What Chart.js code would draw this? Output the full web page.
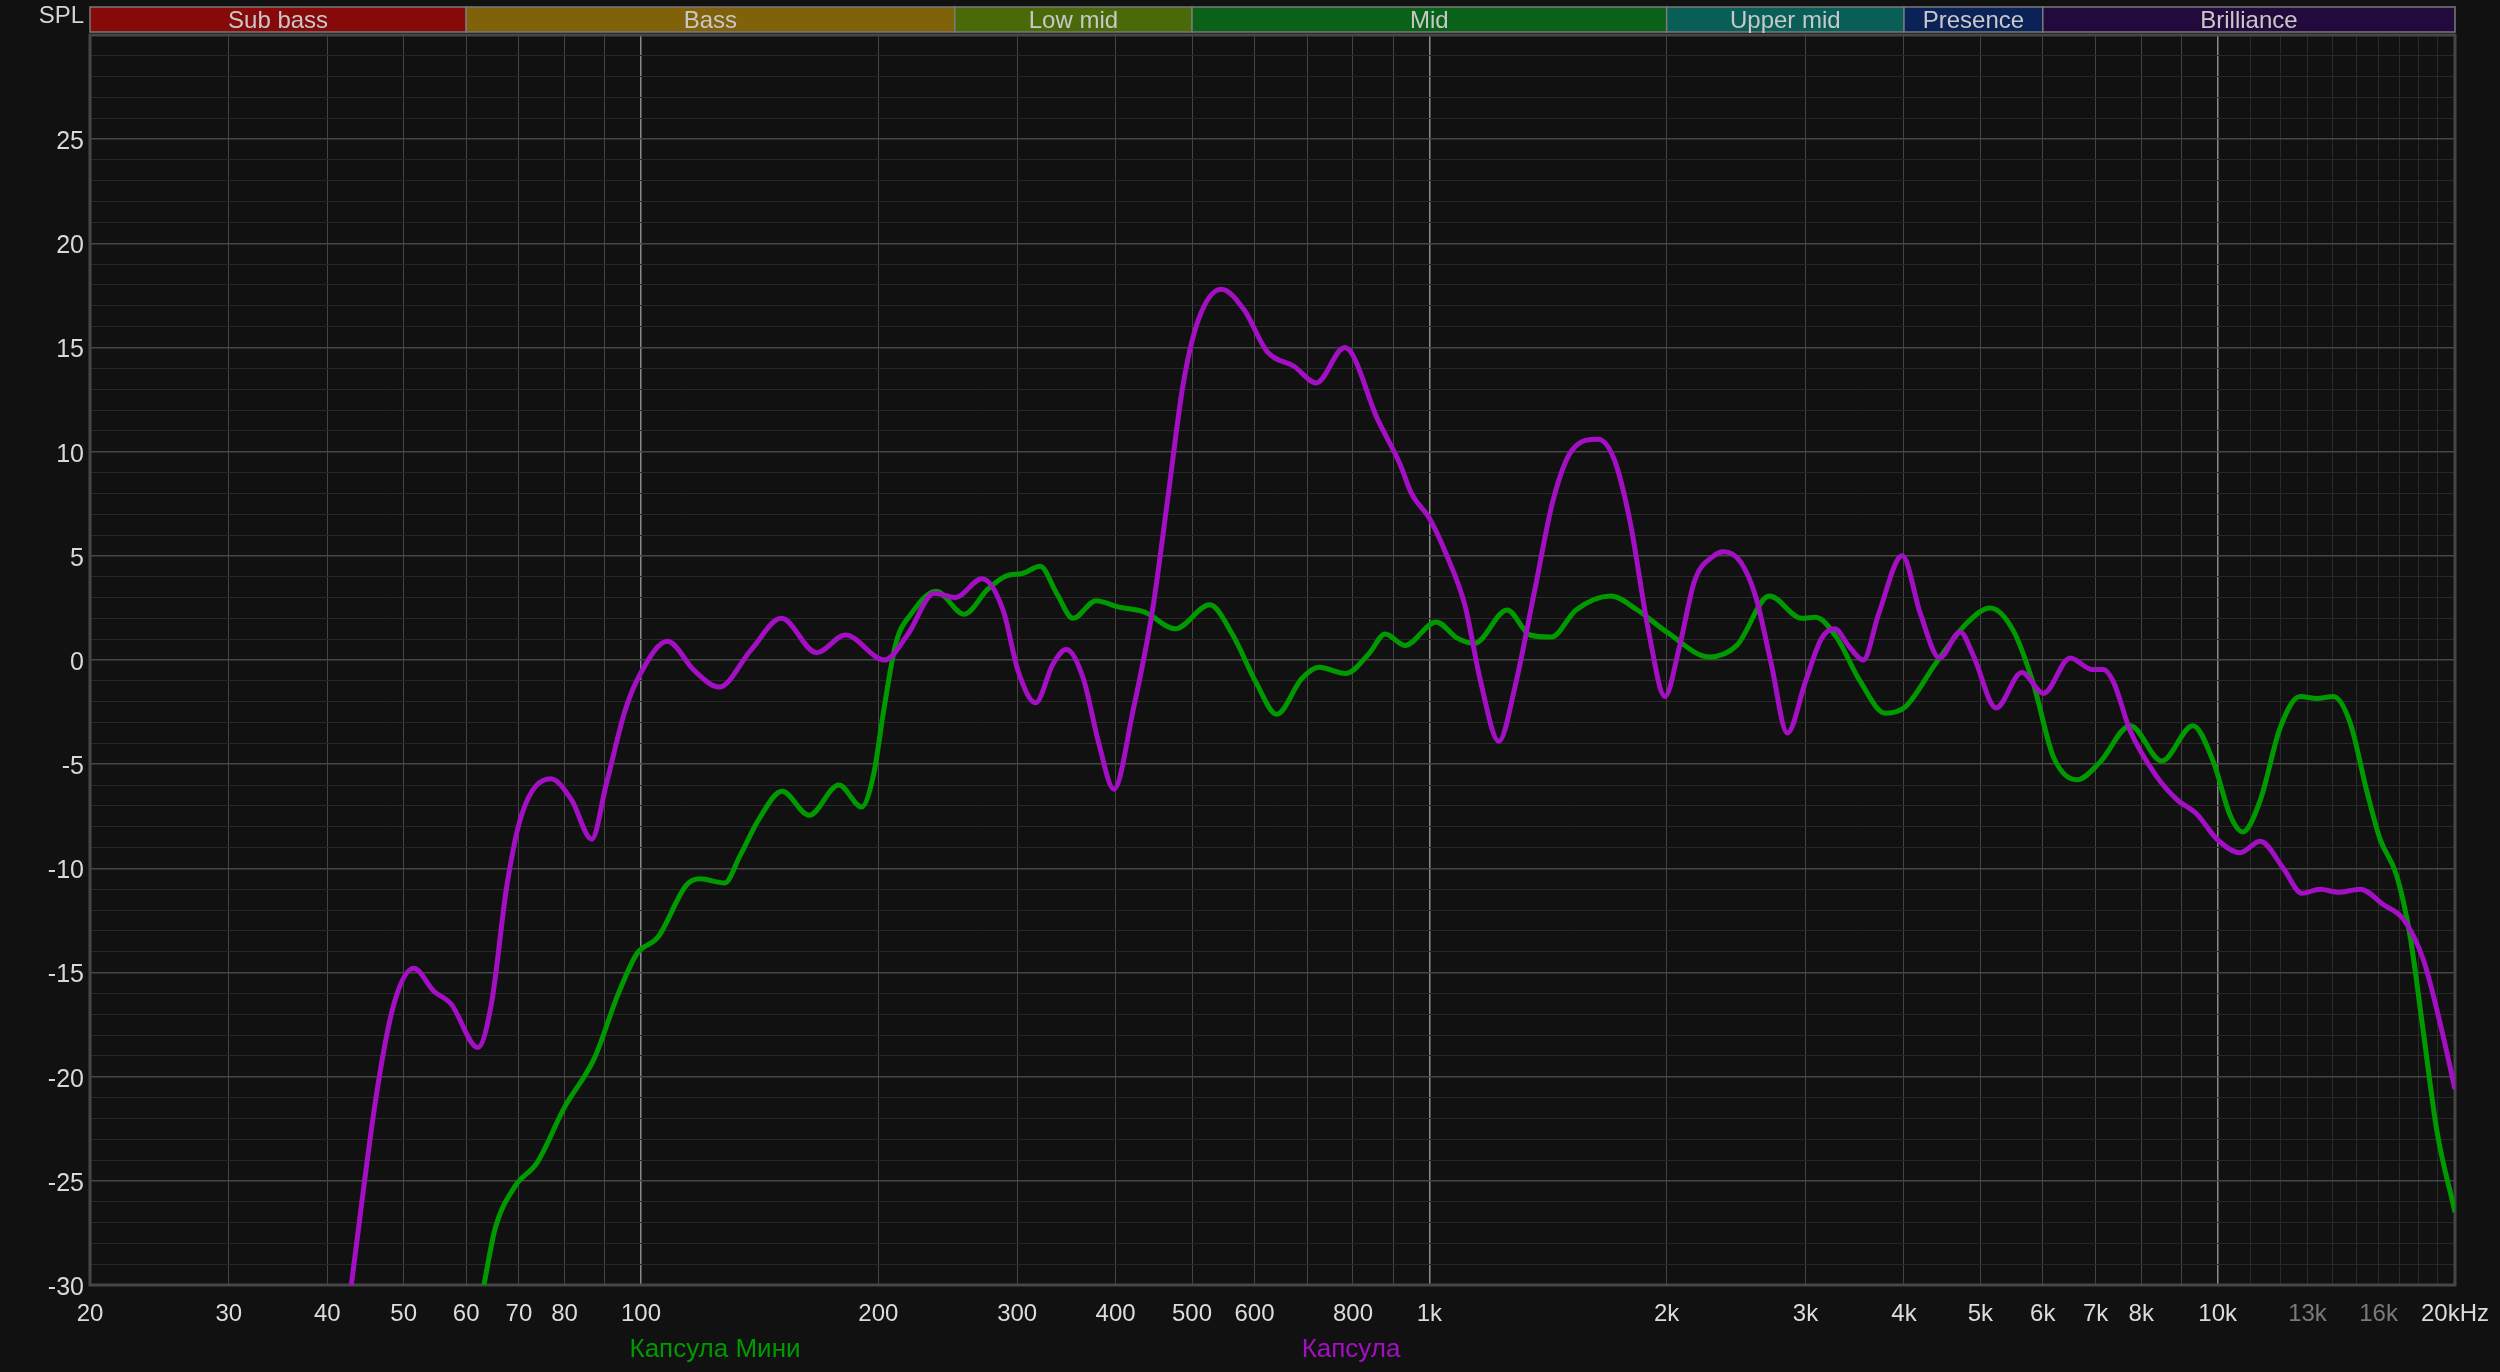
<!DOCTYPE html>
<html>
<head>
<meta charset="utf-8">
<script src="https://cdn.jsdelivr.net/npm/chart.js@4.4.1/dist/chart.umd.min.js"></script>
<style>
  html, body { margin: 0; padding: 0; background: #111111; }
  canvas { display: block; }
</style>
</head>
<body>
<canvas id="spl" width="2500" height="1372"></canvas>
<script>
// series names (legend)
const seriesNames = ['Капсула Мини', 'Капсула'];
const seriesColors = ['#009a00', '#a30fc3'];

// Капсула Мини (green)
const miniFreq = [63.2, 65.3, 69.1, 73.9, 79.9, 87.3, 93.4, 98.8, 105.1, 114.2, 118.8, 127.7, 133.5, 141.3, 151, 163.4, 178.2, 190.5, 197.5, 203, 210.5, 220, 236.8, 257, 275.4, 291.2, 304.5, 320.9, 336.7, 353.2, 377.8, 402.7, 435.5, 476.3, 526.6, 563.2, 602.3, 640.3, 688.6, 724, 783.5, 838, 879, 931, 1020, 1085, 1141, 1255, 1342, 1428, 1535, 1698, 1836, 2008, 2265, 2455, 2700, 2968, 3087, 3284, 3511, 3789, 4015, 4391, 4801, 5145, 5507, 5838, 6189, 6626, 7093, 7745, 8494, 9302, 9878, 10370, 10760, 11320, 12004, 12720, 13355, 14020, 14720, 15460, 16070, 16870, 17540, 18240, 18970, 20000];
const miniSpl = [-30, -27.3, -25.3, -24.1, -21.5, -19.1, -16.1, -14.1, -13.3, -10.8, -10.5, -10.7, -9.4, -7.6, -6.3, -7.45, -6.0, -7.05, -5.4, -2.5, 0.8, 2.2, 3.3, 2.2, 3.4, 4.05, 4.15, 4.5, 3.2, 2.0, 2.85, 2.55, 2.3, 1.5, 2.65, 1.2, -1.05, -2.6, -0.9, -0.35, -0.65, 0.3, 1.25, 0.7, 1.83, 1.05, 0.8, 2.4, 1.2, 1.1, 2.4, 3.07, 2.4, 1.3, 0.15, 0.7, 3.07, 2.0, 2.05, 1.1, -0.95, -2.55, -2.25, -0.15, 1.75, 2.5, 1.4, -1.15, -4.65, -5.75, -4.9, -3.15, -4.85, -3.15, -4.9, -7.45, -8.25, -6.75, -3.25, -1.75, -1.85, -1.75, -3.0, -6.3, -8.6, -10.35, -13.25, -17.9, -22.6, -26.5];

// Капсула (purple)
const kapsFreq = [42.9, 46.2, 48.6, 51.5, 54.6, 57.4, 62.1, 64.6, 67.6, 70.6, 76.8, 81.6, 86.6, 90.3, 95.5, 100, 108, 116.8, 125.6, 138, 150.7, 167, 181.6, 203.7, 217.7, 235.5, 250.4, 270.8, 287.9, 301, 316.6, 333, 346.3, 364, 380.8, 398, 421, 445.5, 465.6, 487, 509, 544.5, 582.4, 622.7, 673.3, 718.5, 781, 861, 918, 949, 1000, 1050, 1110, 1161, 1225, 1284, 1358, 1436, 1519, 1638, 1717, 1796, 1899, 1990, 2075, 2170, 2295, 2361, 2483, 2596, 2715, 2845, 3002, 3140, 3265, 3415, 3552, 3714, 3980, 4198, 4439, 4713, 4900, 5235, 5643, 6012, 6500, 6925, 7162, 7375, 7745, 8370, 8877, 9412, 9977, 10680, 11320, 12115, 12790, 13490, 14230, 15160, 16230, 17210, 18240, 19140, 20000];
const kapsSpl = [-30, -20.8, -16.5, -14.8, -15.9, -16.5, -18.6, -16.5, -10.8, -7.4, -5.7, -6.7, -8.6, -6.0, -2.4, -0.6, 0.9, -0.5, -1.3, 0.5, 2.0, 0.35, 1.2, 0.0, 1.2, 3.2, 3.0, 3.9, 2.4, -0.55, -2.05, -0.2, 0.5, -0.9, -4.0, -6.2, -2.4, 2.4, 7.7, 13.2, 16.3, 17.8, 16.8, 14.8, 14.1, 13.3, 15.0, 11.5, 9.4, 8.0, 6.8, 5.1, 2.6, -1.0, -3.9, -1.3, 3.2, 7.7, 10.1, 10.6, 9.6, 6.7, 1.3, -1.75, 0.6, 3.8, 5.0, 5.2, 4.7, 3.0, -0.2, -3.5, -1.0, 1.0, 1.5, 0.6, 0.0, 2.2, 5.0, 2.2, 0.1, 1.35, 0.2, -2.3, -0.6, -1.6, 0.1, -0.45, -0.45, -1.05, -3.4, -5.6, -6.7, -7.4, -8.6, -9.25, -8.7, -10.0, -11.2, -11.0, -11.15, -11.0, -11.75, -12.45, -14.4, -17.4, -20.6];

// frequency bands shown above the plot
const bandNames = ['Sub bass', 'Bass', 'Low mid', 'Mid', 'Upper mid', 'Presence', 'Brilliance'];
const bandEdges = [20, 60, 250, 500, 2000, 4000, 6000, 20000];
const bandColors = ['#870a0a', '#80620a', '#4a6a0a', '#0a621a', '#0a5e58', '#0a2257', '#230a3c'];

// x axis grid lines and labels
const gridFreqs = [20, 30, 40, 50, 60, 70, 80, 90,
    100, 200, 300, 400, 500, 600, 700, 800, 900,
    1000, 2000, 3000, 4000, 5000, 6000, 7000, 8000, 9000,
    10000, 11000, 12000, 13000, 14000, 15000, 16000, 17000, 18000, 19000, 20000];
const labelFreqs = [20, 30, 40, 50, 60, 70, 80, 100, 200, 300, 400, 500, 600, 800, 1000, 2000, 3000, 4000, 5000, 6000, 7000, 8000, 10000, 13000, 16000, 20000];
const labelTexts = ['20', '30', '40', '50', '60', '70', '80', '100', '200', '300', '400', '500', '600', '800', '1k', '2k', '3k', '4k', '5k', '6k', '7k', '8k', '10k', '13k', '16k', '20kHz'];
const dimLabels = [13000, 16000];
const brightLines = [100, 1000, 10000];

// y axis: every dB a line, label every 5
const yMin = -30, yMax = 30;

Chart.defaults.font.family = '"Liberation Sans", Arial, sans-serif';

const toPts = (fs, vs) => fs.map((f, i) => ({ x: f, y: vs[i] }));

const bandBar = {
    id: 'bandBar',
    afterDraw(chart) {
        const { ctx, scales: { x } } = chart;
        const top = 7, h = 25;
        ctx.save();
        ctx.font = '24px "Liberation Sans", Arial, sans-serif';
        ctx.textAlign = 'center';
        ctx.textBaseline = 'middle';
        for (let i = 0; i < bandNames.length; i++) {
            const x0 = x.getPixelForValue(bandEdges[i]);
            const x1 = x.getPixelForValue(bandEdges[i + 1]);
            ctx.fillStyle = bandColors[i];
            ctx.fillRect(x0, top, x1 - x0, h);
            ctx.strokeStyle = '#7a7a7a';
            ctx.lineWidth = 1.5;
            ctx.strokeRect(x0, top, x1 - x0, h);
            ctx.fillStyle = '#c8c8c8';
            ctx.fillText(bandNames[i], (x0 + x1) / 2, top + h / 2 + 2);
        }
        // SPL caption
        ctx.textAlign = 'right';
        ctx.fillStyle = '#d4d4d4';
        ctx.fillText('SPL', 84, 16);
        ctx.restore();
    }
};

const frame = {
    id: 'frame',
    beforeDatasetsDraw(chart) {
        const { ctx, chartArea: a } = chart;
        ctx.save();
        ctx.strokeStyle = '#464646';
        ctx.lineWidth = 3;
        ctx.strokeRect(a.left, a.top, a.right - a.left, a.bottom - a.top);
        ctx.restore();
    }
};

const spreadLegend = {
    id: 'spreadLegend',
    afterDraw(chart) {
        const { ctx } = chart;
        const centers = [715, 1351];
        ctx.save();
        ctx.font = '26px "Liberation Sans", Arial, sans-serif';
        ctx.textAlign = 'center';
        ctx.textBaseline = 'middle';
        seriesNames.forEach((n, i) => {
            ctx.fillStyle = seriesColors[i];
            ctx.fillText(n, centers[i], 1350);
        });
        ctx.restore();
    }
};

new Chart(document.getElementById('spl').getContext('2d'), {
    type: 'line',
    data: {
        datasets: [
            { label: seriesNames[1], data: toPts(kapsFreq, kapsSpl), borderColor: seriesColors[1], borderWidth: 5, pointRadius: 0, cubicInterpolationMode: 'monotone', fill: false },
            { label: seriesNames[0], data: toPts(miniFreq, miniSpl), borderColor: seriesColors[0], borderWidth: 5, pointRadius: 0, cubicInterpolationMode: 'monotone', fill: false }
        ]
    },
    options: {
        responsive: false, animation: false, devicePixelRatio: 1,
        layout: { padding: { top: 35, right: 45, left: 0, bottom: 0 } },
        plugins: { legend: { display: false }, tooltip: { enabled: false } },
        scales: {
            x: {
                type: 'logarithmic', min: 20, max: 20000,
                afterBuildTicks: s => { s.ticks = gridFreqs.map(v => ({ value: v })); },
                afterFit: s => { s.height = 87; s.paddingLeft = 0; s.paddingRight = 0; },
                border: { display: false },
                grid: {
                    drawTicks: false,
                    lineWidth: c => brightLines.includes(c.tick.value) ? 1.5 : 1,
                    color: c => brightLines.includes(c.tick.value) ? '#8a8a8a' : (c.tick.value > 10000 ? '#2a2a2a' : '#444444')
                },
                ticks: {
                    autoSkip: false, maxRotation: 0, minRotation: 0, padding: 15,
                    font: { size: 24 },
                    color: c => dimLabels.includes(c.tick.value) ? '#7a7a7a' : '#dcdcdc',
                    callback: v => { const i = labelFreqs.indexOf(v); return i < 0 ? '' : labelTexts[i]; }
                }
            },
            y: {
                min: yMin, max: yMax,
                afterBuildTicks: s => { const t = []; for (let v = yMin; v <= yMax; v++) t.push({ value: v }); s.ticks = t; },
                afterFit: s => { s.width = 90; },
                border: { display: false },
                grid: {
                    drawTicks: false,
                    lineWidth: c => c.tick.value % 5 === 0 ? 1.5 : 1,
                    color: c => c.tick.value % 5 === 0 ? '#464646' : '#282828'
                },
                ticks: {
                    autoSkip: false, padding: 6, labelOffset: 3,
                    font: { size: 25 },
                    color: '#d8d8d8',
                    callback: v => (v % 5 === 0 && v < yMax) ? String(v) : ''
                }
            }
        }
    },
    plugins: [frame, bandBar, spreadLegend]
});
</script>
</body>
</html>
